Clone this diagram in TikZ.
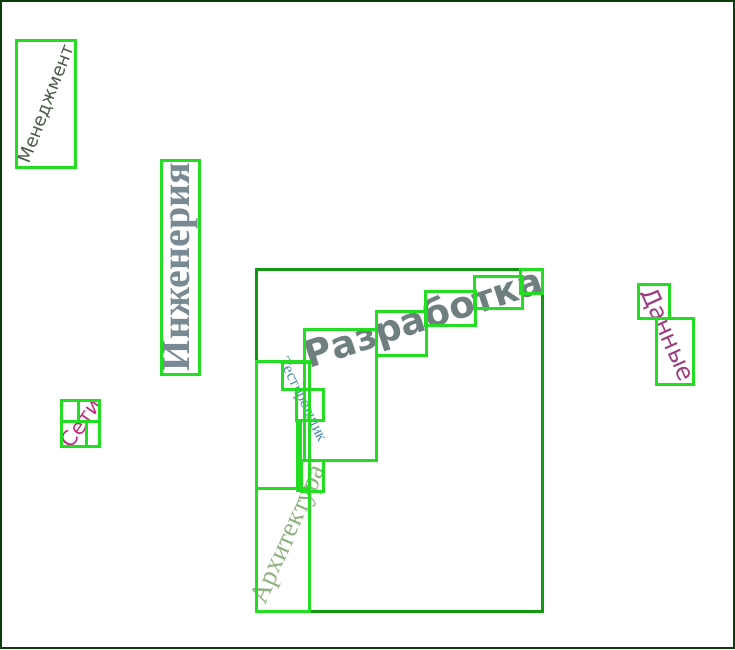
\documentclass[tikz,border=0pt]{standalone}
\usepackage{fontspec}
\setmainfont{Liberation Serif}
\setsansfont{DejaVu Sans}
\usetikzlibrary{calc}
\definecolor{frame}{HTML}{0B3D0B}
\definecolor{bbox}{HTML}{22DD22}
\definecolor{dbox}{HTML}{119911}
\definecolor{cMen}{HTML}{4A5A48}
\definecolor{cEng}{HTML}{7A8A94}
\definecolor{cDev}{HTML}{6F7F80}
\definecolor{cArch}{HTML}{8FB080}
\definecolor{cBlue}{HTML}{4A8AAA}
\definecolor{cData}{HTML}{9A4080}
\definecolor{cNet}{HTML}{C03080}
\begin{document}
\begin{tikzpicture}[x=1pt,y=-1pt,
  gbox/.style={draw=bbox,line width=3pt},
  dgbox/.style={draw=dbox,line width=3pt},
  word/.style={inner sep=0pt,anchor=center}]
\useasboundingbox (0,0) rectangle (735,649);
\draw[frame,line width=2pt] (1,1) rectangle (734,648);
% big dark box
\draw[dgbox] (256,269) rectangle (542,611);
\draw[dgbox] (256,361) -- (309,361);
% words
\node[word,rotate=69,text=cMen,font=\sffamily\fontsize{18}{18}\selectfont] (men) at (47,104) {Менеджмент};
\node[word,rotate=90,text=cEng,font=\bfseries\fontsize{40}{40}\selectfont] (eng) at (181,267) {Инженерия};
\node[word,rotate=18,text=cDev,font=\sffamily\bfseries\fontsize{37}{37}\selectfont] (dev) at (424,320) {Разработка};
\node[word,rotate=66,text=cArch,font=\fontsize{27}{27}\selectfont] (arch) at (290,535) {Архитектура};
\node[word,rotate=-64,text=cBlue,font=\fontsize{16}{16}\selectfont] (blue) at (302,400) {Тестировщик};
\node[word,rotate=-66,text=cData,font=\sffamily\fontsize{24}{24}\selectfont] (data) at (667,335) {Данные};
\node[word,rotate=55,text=cNet,font=\sffamily\fontsize{21}{21}\selectfont] (net) at (81,423) {Сети};
% boxes
\draw[gbox] (16,40) rectangle (75,167);
\draw[gbox] (161,160) rectangle (199,374);
\draw[gbox] (61,400) rectangle (99,446);
\draw[gbox] (61,421) -- (99,421);
\draw[gbox] (78,400) -- (78,421);
\draw[gbox] (86,421) -- (86,446);
\draw[gbox] (304,329) rectangle (376,460);
\draw[gbox] (376,311) rectangle (426,355);
\draw[gbox] (425,291) rectangle (475,325);
\draw[gbox] (474,276) rectangle (522,308);
\draw[gbox] (520,269) rectangle (542,293);
\draw[gbox] (256,361) rectangle (309,488);
\draw[gbox] (256,488) rectangle (309,611);
\draw[gbox] (282,362) rectangle (309,389);
\draw[gbox] (296,389) rectangle (323,420);
\draw[gbox] (297,420) rectangle (300,490);
\draw[gbox] (301,460) rectangle (323,491);
\draw[gbox] (638,284) rectangle (669,318);
\draw[gbox] (656,318) rectangle (693,384);
\end{tikzpicture}
\end{document}
